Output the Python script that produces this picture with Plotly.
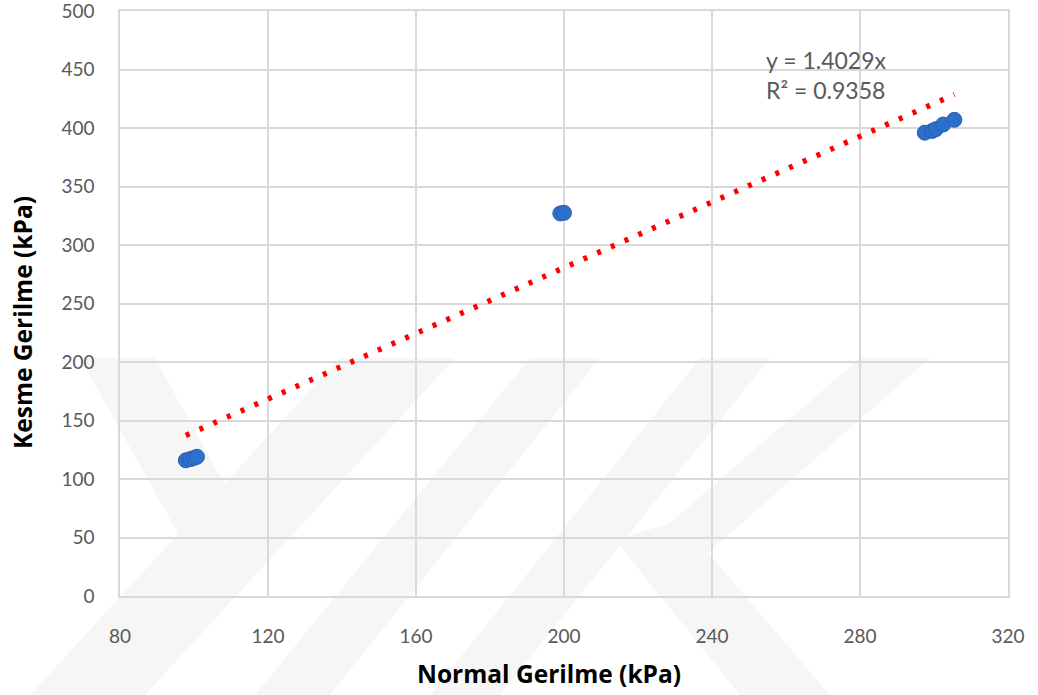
import numpy as np
import plotly.graph_objects as go

# Data
normal_stress = [97.8, 99.0, 100.0, 100.8, 199.0, 200.0, 297.5, 299.5, 300.5, 302.5, 305.5]
shear_stress = [116, 117, 118, 119, 327, 327.5, 396, 397.5, 399, 403, 407]
slope = 1.4029
r2 = 0.9358

x_ticks = [80, 120, 160, 200, 240, 280, 320]
y_ticks = [0, 50, 100, 150, 200, 250, 300, 350, 400, 450, 500]

W, H = 1038, 695
L, R, T, B = 120, 30, 11, 99
pw, ph = W - L - R, H - T - B

def px2paper(px, py):
    return (px - L) / pw, (H - B - py) / ph

# faint background watermark (approximate)
wm_polys = [
    [(80, 358), (155, 358), (255, 540), (215, 600)],
    [(340, 358), (455, 358), (145, 695), (30, 695)],
    [(530, 358), (600, 358), (330, 695), (255, 695)],
    [(700, 358), (770, 358), (500, 695), (430, 695)],
    [(615, 540), (680, 520), (830, 695), (740, 695)],
    [(860, 358), (930, 358), (700, 560), (650, 540)],
]
shapes = []
for poly in wm_polys:
    pts = [px2paper(a, b) for a, b in poly]
    path = "M " + " L ".join(f"{x:.4f},{y:.4f}" for x, y in pts) + " Z"
    shapes.append(dict(type="path", path=path, xref="paper", yref="paper",
                       fillcolor="#f6f6f6", line=dict(width=0), layer="below"))

x_arr = np.array(normal_stress)
tx = np.array([x_arr.min(), x_arr.max()])
ty = slope * tx

fig = go.Figure()
fig.add_trace(go.Scatter(
    x=tx, y=ty, mode="lines",
    line=dict(color="#ff0000", width=5.5, dash="4px,11px"),
    showlegend=False, hoverinfo="skip"))
fig.add_trace(go.Scatter(
    x=normal_stress, y=shear_stress, mode="markers",
    marker=dict(size=15, color="#2C70CC", line=dict(color="#2A5FAF", width=1)),
    showlegend=False))

tick_font = dict(family="Lato, Open Sans, sans-serif", size=19, color="#595959")
title_font = dict(family="Open Sans, Lato, sans-serif", size=24.5, color="black")
fig.update_layout(
    width=W, height=H,
    margin=dict(l=L, r=R, t=T, b=B),
    paper_bgcolor="white", plot_bgcolor="white",
    shapes=shapes,
    xaxis=dict(range=[80, 320], tickvals=x_ticks, showgrid=True, gridcolor="#d9d9d9",
               gridwidth=1.5, zeroline=False, showline=True, linecolor="#d9d9d9", linewidth=1.5,
               mirror=True, ticks="outside", ticklen=22, tickcolor="rgba(0,0,0,0)",
               tickfont=tick_font, automargin=False, ticklabeloverflow="allow"),
    yaxis=dict(range=[0, 500], tickvals=y_ticks, showgrid=True, gridcolor="#d9d9d9",
               gridwidth=1.5, zeroline=False, showline=True, linecolor="#d9d9d9", linewidth=1.5,
               mirror=True, ticks="outside", ticklen=20, tickcolor="rgba(0,0,0,0)",
               tickfont=tick_font, automargin=False, ticklabeloverflow="allow"),
    annotations=[
        dict(text="<b>Normal Gerilme (kPa)</b>", xref="paper", yref="paper",
             x=(549 - L) / pw, y=(H - B - 673) / ph, showarrow=False,
             xanchor="center", yanchor="middle", font=title_font),
        dict(text="<b>Kesme Gerilme (kPa)</b>", xref="paper", yref="paper",
             x=(22 - L) / pw, y=(H - B - 323) / ph, showarrow=False, textangle=-90,
             xanchor="center", yanchor="middle", font=title_font),
        dict(text=f"y = {slope}x", xref="paper", yref="paper",
             x=(764 - L) / pw, y=(H - B - 60) / ph, showarrow=False,
             xanchor="left", yanchor="middle",
             font=dict(family="Lato, Open Sans, sans-serif", size=23, color="#595959")),
        dict(text=f"R² = {r2}", xref="paper", yref="paper",
             x=(764 - L) / pw, y=(H - B - 90) / ph, showarrow=False,
             xanchor="left", yanchor="middle",
             font=dict(family="Lato, Open Sans, sans-serif", size=23, color="#595959")),
    ],
)

fig.write_html("out.html")
